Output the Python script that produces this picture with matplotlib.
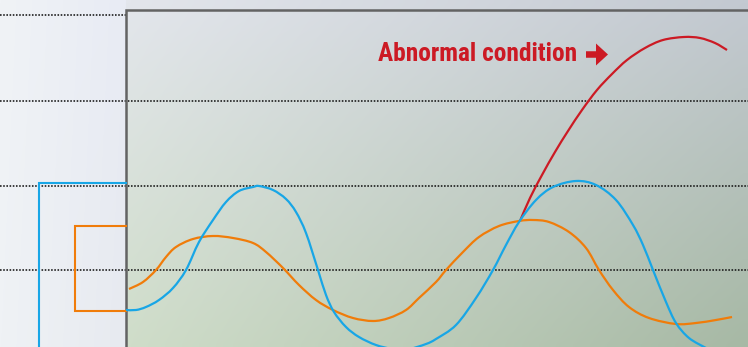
import numpy as np
import matplotlib
matplotlib.use("Agg")
import matplotlib.pyplot as plt
from matplotlib import font_manager
from matplotlib.patches import FancyArrow, PathPatch
from matplotlib.path import Path

# --- data (picture units: x to the right, y downward) ---
blue_x = [126, 136, 146, 159, 173, 186, 199, 213, 226, 239, 253, 259, 273, 286, 296, 306,
          318, 326, 334, 346, 359, 376, 393, 409, 426, 436, 456, 476, 493, 506, 519, 536,
          553, 576, 596, 616, 633, 643, 653, 666, 676, 689, 706]
blue_y = [310, 310, 307, 300, 288, 270, 242, 220, 202, 191, 187, 186, 190, 199, 212, 233,
          270, 295, 312, 327, 337, 345, 349, 349, 344, 339, 325, 298, 270, 245, 222, 200,
          187, 181, 185, 200, 225, 245, 270, 302, 323, 338, 348]

orange_x = [129, 143, 156, 166, 176, 193, 213, 233, 253, 266, 283, 299, 316, 333, 353, 373,
            389, 406, 419, 436, 446, 463, 479, 499, 519, 533, 549, 569, 586, 599, 613, 629,
            649, 676, 696, 716, 732]
orange_y = [289, 282, 270, 257, 247, 239, 236, 238, 243, 252, 268, 285, 300, 310, 318, 321,
            318, 310, 298, 282, 270, 252, 237, 226, 221, 220, 222, 232, 248, 270, 290, 307,
            318, 324, 323, 320, 317]

red_x = [520, 530, 542, 555, 568, 582, 597, 612, 627, 645, 663, 684, 700, 715, 727]
red_y = [221, 198, 175, 152, 131, 110, 90, 74, 60, 48, 40, 37, 38, 43, 50]

grid_y = [101, 186, 270]
top_dot_y = 15
frame_x, frame_top = 126, 10
blue_bracket = (38.7, 183)     # left x, top y
orange_bracket = (75, 226, 311)  # left x, top y, bottom y
label = "Abnormal condition"

W, H = 748, 347


def panel(c_tl, c_tr, c_bl, c_br, n=64):
    c = [np.array(matplotlib.colors.to_rgb(v)) for v in (c_tl, c_tr, c_bl, c_br)]
    u = np.linspace(0, 1, n)[None, :, None]
    v = np.linspace(0, 1, n)[:, None, None]
    top = c[0] * (1 - u) + c[1] * u
    bot = c[2] * (1 - u) + c[3] * u
    return top * (1 - v) + bot * v


def smooth_path(xs, ys):
    # Catmull-Rom through the read points, drawn as cubic Bezier segments
    p = np.column_stack([xs, ys]).astype(float)
    ext = np.vstack([p[0], p, p[-1]])
    verts, codes = [p[0]], [Path.MOVETO]
    for i in range(1, len(ext) - 2):
        c1 = ext[i] + (ext[i + 1] - ext[i - 1]) / 6
        c2 = ext[i + 1] - (ext[i + 2] - ext[i]) / 6
        verts += [c1, c2, ext[i + 1]]
        codes += [Path.CURVE4] * 3
    return Path(verts, codes)


fig = plt.figure(figsize=(W / 100, H / 100), dpi=100)
ax = fig.add_axes([0, 0, 1, 1])
ax.set_xlim(0, W)
ax.set_ylim(H, 0)
ax.axis("off")

# backgrounds
ax.imshow(panel("#f0f3f6", "#e8ebf4", "#eff2f5", "#e7eaf0"), extent=(0, frame_x, H, 0),
          aspect="auto", interpolation="bilinear", zorder=0)
ax.imshow(panel("#e3e6ec", "#c3c9d1", "#cfddc9", "#a7b9a5"), extent=(frame_x, W, H, 0),
          aspect="auto", interpolation="bilinear", zorder=0)

# dotted guide lines
dot = dict(color="#141414", lw=1.15, dashes=(1, 1), zorder=2)
ax.plot([0, frame_x], [top_dot_y, top_dot_y], **dot)
for gy in grid_y:
    ax.plot([0, W], [gy, gy], **dot)

# frame
ax.plot([frame_x, frame_x, W], [H, frame_top, frame_top], color="#636363", lw=1.8,
        solid_joinstyle="miter", zorder=3)

# brackets
bx, by = blue_bracket
ax.plot([bx, bx, frame_x], [H, by, by], color="#18a6e6", lw=1.5, solid_joinstyle="miter", zorder=4)
ox, oy1, oy2 = orange_bracket
ax.plot([frame_x, ox, ox, frame_x], [oy1, oy1, oy2, oy2], color="#f07c0a", lw=1.5,
        solid_joinstyle="miter", zorder=4)

# curves
for xs, ys, col, z in [(red_x, red_y, "#cc1a24", 5), (orange_x, orange_y, "#f07c0a", 5),
                       (blue_x, blue_y, "#18a6e6", 6)]:
    ax.add_patch(PathPatch(smooth_path(xs, ys), fill=False, edgecolor=col, lw=1.6,
                           capstyle="butt", zorder=z))

# label: prefer a narrow bold face, fall back to Liberation Sans
fonts = font_manager.fontManager.ttflist
names = {f.name for f in fonts}
stretch = "normal"
fam = "Liberation Sans"
for cand in ["Liberation Sans Narrow", "Arial Narrow", "Roboto Condensed", "Open Sans Condensed"]:
    if cand in names:
        fam = cand
        break
else:
    if any(f.name == "DejaVu Sans" and f.stretch == "condensed" and f.weight in ("bold", 700)
           for f in fonts):
        fam, stretch = "DejaVu Sans", "condensed"

txt = ax.text(378, 60.5, label, color="#cc1a24", fontsize=17, fontweight="bold",
              family=fam, fontstretch=stretch, ha="left", va="baseline", zorder=7)
fig.canvas.draw()
bb = txt.get_window_extent()
scale = 200 / bb.width
if fam == "Liberation Sans" and stretch == "normal":
    scale = 210 / bb.width
txt.set_fontsize(17 * scale)

ax.add_patch(FancyArrow(586, 54.5, 22, 0, width=6.5, head_width=22, head_length=12,
                        length_includes_head=True, color="#cc1a24", lw=0, zorder=7))

fig.savefig("out.png", dpi=100)
